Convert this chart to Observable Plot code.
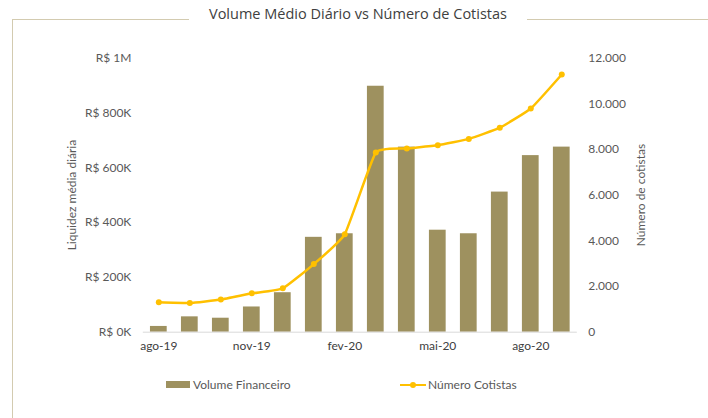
<!DOCTYPE html>
<html>
<head>
<meta charset="utf-8">
<script src="https://cdn.jsdelivr.net/npm/d3@7"></script>
<script src="https://cdn.jsdelivr.net/npm/@observablehq/plot@0.6"></script>
<style>
  body { margin: 0; background: #fff; }
  #wrap { position: relative; width: 708px; height: 418px; overflow: hidden; font-family: Lato, sans-serif; color: #595959; }
  #frame { position: absolute; left: 12px; top: 19px; right: -2px; bottom: -2px; border-left: 1px solid #d3cbb0; border-top: 1px solid #d3cbb0; }
  #title { position: absolute; left: 189px; width: 338px; top: 3px; height: 22px; line-height: 22px; text-align: center; background: #fff; font-family: "Open Sans", sans-serif; font-size: 14.5px; color: #404040; white-space: nowrap; }
  #chart { position: absolute; left: 0; top: 30px; }
  .lg { position: absolute; }
  .lgtext { position: absolute; font-size: 12px; line-height: 14px; top: 378px; color: #595959; white-space: nowrap; }
</style>
</head>
<body>
<div id="wrap">
  <div id="frame"></div>
  <div id="title">Volume Médio Diário vs Número de Cotistas</div>
  <div id="chart"></div>
  <div id="legend"></div>
</div>
<script>
// ---- Data ----
const months = ["ago-19","set-19","out-19","nov-19","dez-19","jan-20","fev-20","mar-20","abr-20","mai-20","jun-20","jul-20","ago-20","set-20"];
const volume = [21000, 56000, 51000, 92000, 144000, 346000, 359000, 897000, 675000, 372000, 359000, 511000, 644000, 675000];
const cotistas = [1310, 1280, 1430, 1700, 1920, 2980, 4290, 7860, 8040, 8180, 8460, 8950, 9790, 11280];
const xTicks = ["ago-19","nov-19","fev-20","mai-20","ago-20"];
const leftTicks = [0, 200000, 400000, 600000, 800000, 1000000];
const rightTicks = [0, 2000, 4000, 6000, 8000, 10000, 12000];
const seriesNames = ["Volume Financeiro", "Número Cotistas"];
const colors = ["#9e915f", "#ffc000"];

const ratio = 1000000 / 12000;
const data = months.map((m, i) => ({month: m, volume: volume[i], cot: cotistas[i]}));

const fmtLeft = v => v === 0 ? "R$ 0K" : v >= 1000000 ? "R$ 1M" : `R$ ${Math.round(v / 1000)}K`;
const fmtRight = v => d3.format(",")(Math.round(v)).replace(/,/g, ".");

const chart = Plot.plot({
  width: 708,
  height: 340,
  marginTop: 27.5,
  marginBottom: 38.3,
  marginLeft: 142.8,
  marginRight: 131.2,
  style: {fontFamily: "Lato, sans-serif", fontSize: "12px", color: "#595959", background: "transparent"},
  x: {domain: months, padding: 0.46, range: [135.7, 583.9], round: false, label: null},
  y: {domain: [0, 1000000], label: null},
  marks: [
    Plot.barY(data, {x: "month", y: "volume", fill: colors[0]}),
    Plot.ruleY([0], {stroke: "#d9d9d9"}),
    Plot.line(data, {x: "month", y: d => d.cot * ratio, stroke: colors[1], strokeWidth: 2.5, curve: d3.curveCardinal.tension(0.6)}),
    Plot.dot(data, {x: "month", y: d => d.cot * ratio, fill: colors[1], r: 3}),
    Plot.axisX({ticks: xTicks, tickSize: 0, tickPadding: 9, label: null, fill: "#404040"}),
    Plot.axisY({ticks: leftTicks, tickSize: 0, tickPadding: 12, tickFormat: fmtLeft, label: null}),
    Plot.axisY(rightTicks.map(v => v * ratio), {anchor: "right", tickSize: 0, tickPadding: 11, tickFormat: v => fmtRight(v / ratio), label: null}),
    Plot.text(["Liquidez média diária"], {text: d => d, frameAnchor: "left", textAnchor: "middle", rotate: -90, dx: -71, fill: "#595959", fontSize: 12}),
    Plot.text(["Número de cotistas"], {text: d => d, frameAnchor: "right", textAnchor: "middle", rotate: -90, dx: 64, fill: "#595959", fontSize: 12})
  ]
});
document.getElementById("chart").appendChild(chart);

// ---- Legend ----
const lg = document.getElementById("legend");
lg.innerHTML = `
  <div class="lg" style="left:166px;top:381px;width:24px;height:7px;background:${colors[0]}"></div>
  <div class="lgtext" style="left:193px">${seriesNames[0]}</div>
  <div class="lg" style="left:400px;top:384px;width:26px;height:2px;background:${colors[1]}"></div>
  <div class="lg" style="left:410px;top:382px;width:6px;height:6px;border-radius:3px;background:${colors[1]}"></div>
  <div class="lgtext" style="left:428px">${seriesNames[1]}</div>
`;
</script>
</body>
</html>
